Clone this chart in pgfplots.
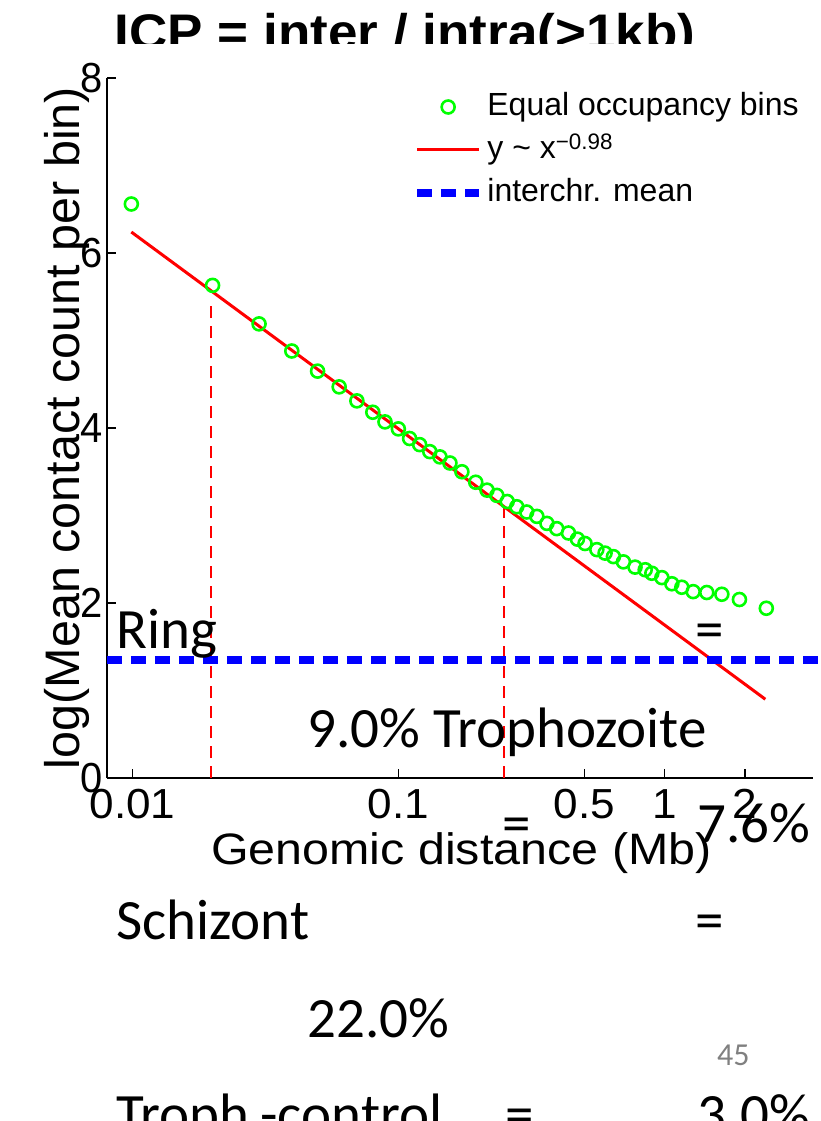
\documentclass[border=0pt]{standalone}
\usepackage{fontspec}
\setmainfont{Liberation Sans}
\newfontfamily\slidefont{Carlito}
\usepackage{pgfplots}
\usepackage{pgfplotstable}
\pgfplotsset{compat=1.18}

\definecolor{mgreen}{RGB}{0,255,0}
\definecolor{mred}{RGB}{255,0,0}
\definecolor{mblue}{RGB}{0,0,255}

\pgfplotsset{
  lineleg/.style={legend image code/.code={\draw[##1] (0pt,0pt) -- (62pt,0pt);}},
  markleg/.style={legend image code/.code={\draw[mark repeat=2,mark phase=2,##1] plot coordinates {(0pt,0pt)(31pt,0pt)(62pt,0pt)};}},
}

% equal occupancy bins: distance (Mb), log mean contact count
\pgfplotstableread{
x y
0.0099 6.56
0.0200 5.63
0.0299 5.19
0.0397 4.88
0.0496 4.65
0.0598 4.47
0.0697 4.31
0.0800 4.18
0.0889 4.07
0.0998 3.99
0.110 3.88
0.120 3.81
0.131 3.73
0.143 3.67
0.156 3.60
0.173 3.50
0.195 3.38
0.215 3.29
0.234 3.23
0.256 3.16
0.278 3.10
0.303 3.04
0.331 2.99
0.361 2.91
0.393 2.85
0.435 2.80
0.470 2.73
0.502 2.68
0.556 2.61
0.597 2.57
0.642 2.53
0.700 2.47
0.774 2.41
0.845 2.38
0.895 2.34
0.976 2.29
1.064 2.22
1.16 2.18
1.28 2.13
1.44 2.12
1.64 2.10
1.91 2.04
2.41 1.94
}\bins

\begin{document}
\begin{tikzpicture}
\useasboundingbox (0pt,0pt) rectangle (821pt,-1121pt);

\node[font=\bfseries\fontsize{50}{60}\selectfont, xscale=1.06, anchor=base] at (405pt,-50pt) {ICP = inter / intra(>1kb)};
\fill[white] (0pt,-44.5pt) rectangle (821pt,-62pt);

\begin{axis}[
  at={(107pt,-778pt)}, anchor=south west,
  scale only axis, width=706pt, height=700pt,
  xmode=log, xmin=0.00802, xmax=3.61,
  ymin=0, ymax=8,
  axis lines*=left,
  axis line style={line width=1.8pt, black},
  clip=false,
  xtick={0.01,0.1,0.5,1,2}, xticklabels={0.01,0.1,0.5,1,2},
  ytick={0,2,4,6,8}, yticklabels={0,2,4,6,8},
  xminorticks=false,
  tick align=inside, major tick length=9pt,
  tick style={line width=1.5pt, black},
  ticklabel style={font=\fontsize{42}{50}\selectfont, inner sep=0pt},
  xticklabel style={yshift=-11pt, xscale=1.05},
  yticklabel style={xshift=-4pt, xscale=0.95},
  xlabel={Genomic distance (Mb)},
  ylabel={log(Mean contact count per bin)},
  xlabel style={font=\fontsize{44}{52}\selectfont, xscale=1.1, at={(axis description cs:0.502,-0.108)}, anchor=center},
  ylabel style={font=\fontsize{48.5}{56}\selectfont, at={(axis description cs:-0.056,0.5)}, anchor=center},
  legend style={at={(axis description cs:0.433,0.981)}, anchor=north west,
    draw=none, fill=none, inner sep=0pt,
    font=\fontsize{32}{38}\selectfont,
    nodes={inner sep=0pt, text height=24pt, text depth=7pt, anchor=west},
    row sep=12pt, column sep=4pt},
  legend cell align=left,
]
\addplot[mred, line width=2.2pt, dash pattern=on 12pt off 8pt, forget plot]
  coordinates {(0.0197,0) (0.0197,5.46)};
\addplot[mred, line width=2.2pt, dash pattern=on 12pt off 8pt, forget plot]
  coordinates {(0.249,0) (0.249,3.10)};
\addplot[only marks, mark=o, mgreen, mark size=6.5pt, line width=2.6pt, markleg]
  table {\bins};
\addlegendentry{Equal occupancy bins}
\addplot[mred, line width=3pt, no marks, lineleg]
  coordinates {(0.0099,6.24) (2.39,0.90)};
\addlegendentry{y \textasciitilde\ x\textsuperscript{−0.98}}
\addplot[mblue, line width=8.5pt, dash pattern=on 15pt off 9pt, no marks, lineleg]
  coordinates {(0.00802,1.35) (5,1.35)};
\addlegendentry{interchr. mean}
\end{axis}

\begin{scope}[every node/.style={font=\slidefont\fontsize{57}{68}\selectfont, inner sep=0pt}]
\node[anchor=base west] at (116pt,-648pt) {Ring};
\node[anchor=base] at (710pt,-648pt) {=};
\node[anchor=base west] at (307pt,-747pt) {9.0\% Trophozoite};
\node[anchor=base] at (517pt,-842pt) {=};
\node[anchor=base west] at (697pt,-842pt) {7.6\%};
\node[anchor=base west] at (116pt,-939pt) {Schizont};
\node[anchor=base] at (710pt,-939pt) {=};
\node[anchor=base west] at (307pt,-1037pt) {22.0\%};
\node[anchor=base west, font=\slidefont\fontsize{32}{38}\selectfont, text=gray] at (717pt,-1065pt) {45};
\node[anchor=base west] at (116pt,-1133pt) {Troph.-control};
\node[anchor=base] at (520pt,-1133pt) {=};
\node[anchor=base west] at (697pt,-1133pt) {3.0\%};
\end{scope}
\end{tikzpicture}
\end{document}
